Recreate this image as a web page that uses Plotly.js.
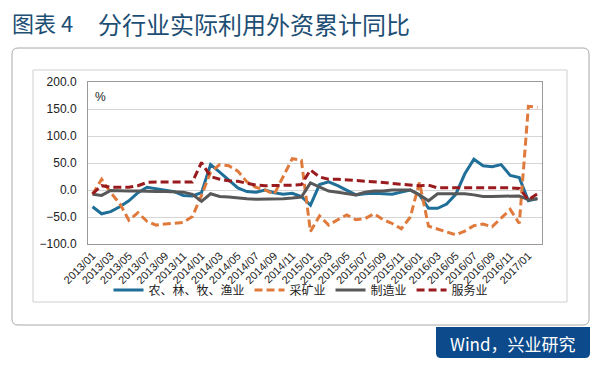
<!DOCTYPE html>
<html>
<head>
<meta charset="utf-8">
<script src="https://cdn.plot.ly/plotly-3.0.1.min.js"></script>
<style>html,body{margin:0;padding:0;background:#fff;}#chart{width:600px;height:371px;}</style>
</head>
<body>
<div id="chart"></div>
<script>
const months = ["2013/01","2013/02","2013/03","2013/04","2013/05","2013/06","2013/07","2013/08","2013/09","2013/10","2013/11","2013/12",
"2014/01","2014/02","2014/03","2014/04","2014/05","2014/06","2014/07","2014/08","2014/09","2014/10","2014/11","2014/12",
"2015/01","2015/02","2015/03","2015/04","2015/05","2015/06","2015/07","2015/08","2015/09","2015/10","2015/11","2015/12",
"2016/01","2016/02","2016/03","2016/04","2016/05","2016/06","2016/07","2016/08","2016/09","2016/10","2016/11","2016/12",
"2017/01","2017/02"];
const tickLabels = ["2013/01","2013/03","2013/05","2013/07","2013/09","2013/11","2014/01","2014/03","2014/05","2014/07","2014/09","2014/11",
"2015/01","2015/03","2015/05","2015/07","2015/09","2015/11","2016/01","2016/03","2016/05","2016/07","2016/09","2016/11","2017/01"];
const seriesNames = ["农、林、牧、渔业","采矿业","制造业","服务业"];
const agriculture = [-31,-44,-40,-31,-20,-5,5,2,-1,-3, -10,-11,-5,47,33,18,4,-3,-4,0, -5,-8,-6,-12,-28,10,15,8,0,-9, -7,-6,-7,-8,-4,0,-9,-34,-34,-26, -8,30,57,45,43,47,27,23,-20,-16];
const mining = [-8,20,-5,-25,-56,-42,-58,-65,-63,-62, -60,-49,-10,33,47,45,35,15,5,0, -8,25,58,55,-77,-48,-65,-55,-46,-55, -53,-44,-55,-62,-72,-50,14,-67,-72,-77, -83,-76,-66,-63,-68,-52,-36,-62,155,153];
const manufacturing = [-8,-10,-1,-2,-2,-2,-3,-3,-3,-3, -4,-8,-21,-7,-12,-13,-15,-16,-17,-17, -17,-16,-15,-13,13,6,-2,-4,-6,-9, -4,-2,-2,0,0,0,-9,-20,-7,-7, -7,-7,-9,-12,-12,-12,-11,-11,-18,-16];
const services = [-7,8,5,5,5,8,14,15,15,15, 15,15,51,25,20,17,16,12,9,8, 8,8,9,10,37,24,20,20,19,18, 17,15,14,12,11,9,8,9,4,4, 4,4,4,5,5,4,4,3,-18,-7];
const titleLead = "图表 4";
const titleMain = "分行业实际利用外资累计同比";
const sourceText = "Wind，兴业研究";

const colors = ["#1f6f98","#e07a3c","#585858","#9a1b1e"];
const dashes = ["solid","8px,4px","solid","8px,4px"];
const values = [agriculture, mining, manufacturing, services];

const traces = values.map((v,k)=>({
  type:'scatter', mode:'lines', x: months, y: v, name: seriesNames[k],
  line:{color:colors[k], width:3, dash:dashes[k]}
}));

// plot area in pixels: x 88..542, y 82..244
const L=88,R=542,T=82,B=244;
const X = px => (px-L)/(R-L);
const Y = py => (B-py)/(B-T);

function roundRect(x0,y0,x1,y1,r){
  const rx = r/(R-L), ry = r/(B-T);
  const a=X(x0), b=X(x1), c=Y(y0), d=Y(y1);
  return `M ${a+rx},${c} L ${b-rx},${c} Q ${b},${c} ${b},${c-ry} L ${b},${d+ry} Q ${b},${d} ${b-rx},${d} L ${a+rx},${d} Q ${a},${d} ${a},${d+ry} L ${a},${c-ry} Q ${a},${c} ${a+rx},${c} Z`;
}
function bottomRoundRect(x0,y0,x1,y1,r){
  const rx = r/(R-L), ry = r/(B-T);
  const a=X(x0), b=X(x1), c=Y(y0), d=Y(y1);
  return `M ${a},${c} L ${b},${c} L ${b},${d+ry} Q ${b},${d} ${b-rx},${d} L ${a+rx},${d} Q ${a},${d} ${a},${d+ry} Z`;
}

const layout = {
  width:600, height:371,
  margin:{l:L, r:600-R, t:T, b:371-B, pad:0},
  paper_bgcolor:'#ffffff', plot_bgcolor:'rgba(0,0,0,0)',
  font:{family:'"Liberation Sans", Arial, sans-serif', color:'#222'},
  title:{text:titleLead, xref:'container', yref:'container', x:12/600, xanchor:'left', y:1-24/371, yanchor:'middle',
    font:{family:'"Noto Sans CJK SC", sans-serif', size:22, color:'#1d4e74'}},
  showlegend:true,
  legend:{orientation:'h', x:X(301), xanchor:'center', y:Y(290), yanchor:'middle',
    font:{family:'"Noto Sans CJK SC", sans-serif', size:12, color:'#222'}, bgcolor:'rgba(0,0,0,0)', itemwidth:30, tracegroupgap:0},
  xaxis:{type:'category', range:[-0.5, months.length-0.5], tickvals:tickLabels, ticktext:tickLabels, tickangle:-45,
    tickfont:{size:11, color:'#222'}, showgrid:false, showline:true, linecolor:'#9a9a9a', linewidth:1, mirror:true, ticks:'', zeroline:false},
  yaxis:{range:[-100,200], dtick:50, tick0:0, tickformat:'.1f', tickfont:{size:12, color:'#222'}, showgrid:true, gridcolor:'#d6d6d6', gridwidth:1,
    showline:true, linecolor:'#9a9a9a', linewidth:1, mirror:true, zeroline:false, ticks:'', ticklabelstandoff:8, automargin:false},
  annotations:[
    {text:titleMain, xref:'paper', yref:'paper', x:X(96), y:Y(24), showarrow:false, xanchor:'left', yanchor:'middle',
      font:{family:'"Noto Sans CJK SC", sans-serif', size:24, color:'#1d4e74'}},
    {text:'%', xref:'paper', yref:'paper', x:X(100), y:Y(97), showarrow:false, xanchor:'center', yanchor:'middle', font:{size:12, color:'#222'}},
    {text:sourceText, xref:'paper', yref:'paper', x:X(513), y:Y(343), showarrow:false, xanchor:'center', yanchor:'middle',
      font:{family:'"Noto Sans CJK SC", sans-serif', size:17, color:'#ffffff'}}
  ],
  shapes:[
    {type:'path', xref:'paper', yref:'paper', path:roundRect(12,48,589,325,6), line:{color:'#a8a8a8', width:1}, fillcolor:'rgba(0,0,0,0)', layer:'below'},
    {type:'rect', xref:'paper', yref:'paper', x0:X(33), x1:X(567), y0:Y(70), y1:Y(302), line:{color:'#cfcfcf', width:1}, layer:'below'},
    {type:'path', xref:'paper', yref:'paper', path:bottomRoundRect(436,327,590,358,5), line:{width:0}, fillcolor:'#0c4a8c', layer:'below'}
  ]
};

Plotly.newPlot('chart', traces, layout, {staticPlot:true, displayModeBar:false});
</script>
</body>
</html>
